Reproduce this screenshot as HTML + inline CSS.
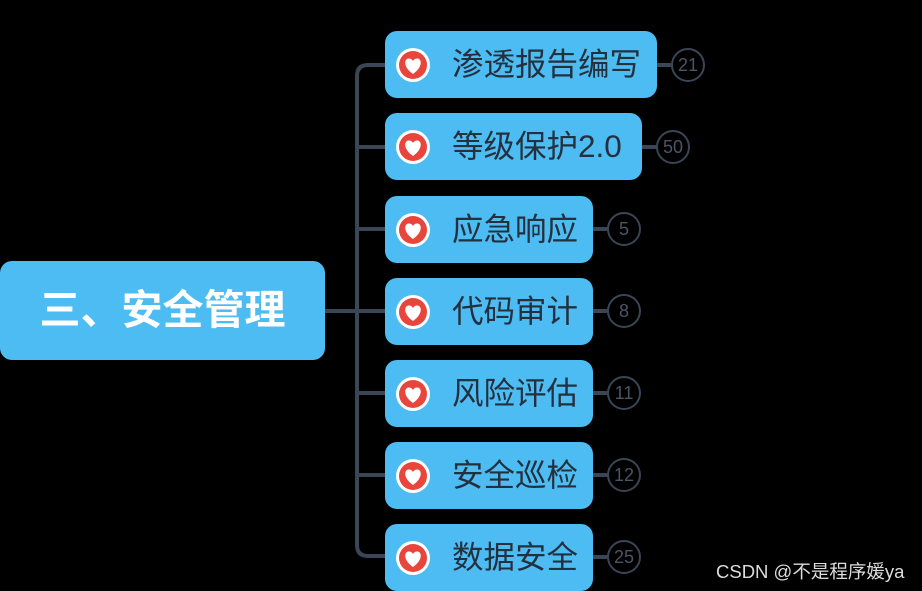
<!DOCTYPE html>
<html><head><meta charset="utf-8"><style>
body{margin:0;width:922px;height:591px;background:#000;overflow:hidden;position:relative;font-family:"Liberation Sans","Noto Sans CJK SC",sans-serif}
.b{position:absolute;background:#4dbcf3;border-radius:12px}
.n{position:absolute;left:385px;height:67px}
.n .t{position:absolute;left:67px;top:0;line-height:67px;font-size:31.5px;color:#24303e;white-space:nowrap}
.ic{position:absolute;left:10px;top:16px;width:36px;height:36px}
.c{position:absolute;width:30px;height:30px;border:2px solid #3a4556;border-radius:50%;color:#4a5566;font-size:18px;text-align:center;line-height:30px}
.l{position:absolute;background:#3a4556}
</style></head><body>
<svg width="0" height="0" style="position:absolute"><defs><g id="h"><circle cx="18" cy="18" r="17" fill="#fff"/><circle cx="18" cy="18" r="14" fill="#e8453c"/><path d="M18 27 C8 20 9 12 13.5 11.5 C16 11.2 17.3 12.8 18 14 C18.7 12.8 20 11.2 22.5 11.5 C27 12 28 20 18 27Z" fill="#fff"/></g></defs></svg>
<svg style="position:absolute;left:0;top:0" width="922" height="591">
<path d="M385 65 H368 Q357 65 357 76 V545 Q357 556 368 556 H385" fill="none" stroke="#3a4556" stroke-width="4"/>
<path d="M325 311 H385 M357 147 H385 M357 229 H385 M357 393 H385 M357 475 H385" stroke="#3a4556" stroke-width="4"/>
</svg>
<div class="b" style="left:0;top:261px;width:325px;height:99px;"><div style="position:absolute;left:0;right:0;top:0;line-height:99px;text-align:center;color:#fff;font-weight:bold;font-size:41px">三、安全管理</div></div>

<div class="b n" style="top:31px;width:272px"><svg class="ic"><use href="#h"/></svg><div class="t">渗透报告编写</div></div>
<div class="l" style="left:657px;top:63px;width:16px;height:4px"></div><div class="c" style="left:671px;top:48px">21</div>

<div class="b n" style="top:113px;width:257px"><svg class="ic"><use href="#h"/></svg><div class="t">等级保护2.0</div></div>
<div class="l" style="left:642px;top:145px;width:16px;height:4px"></div><div class="c" style="left:656px;top:130px">50</div>

<div class="b n" style="top:196px;width:208px"><svg class="ic"><use href="#h"/></svg><div class="t">应急响应</div></div>
<div class="l" style="left:593px;top:227px;width:16px;height:4px"></div><div class="c" style="left:607px;top:212px">5</div>

<div class="b n" style="top:278px;width:208px"><svg class="ic"><use href="#h"/></svg><div class="t">代码审计</div></div>
<div class="l" style="left:593px;top:309px;width:16px;height:4px"></div><div class="c" style="left:607px;top:294px">8</div>

<div class="b n" style="top:360px;width:208px"><svg class="ic"><use href="#h"/></svg><div class="t">风险评估</div></div>
<div class="l" style="left:593px;top:391px;width:16px;height:4px"></div><div class="c" style="left:607px;top:376px">11</div>

<div class="b n" style="top:442px;width:208px"><svg class="ic"><use href="#h"/></svg><div class="t">安全巡检</div></div>
<div class="l" style="left:593px;top:473px;width:16px;height:4px"></div><div class="c" style="left:607px;top:458px">12</div>

<div class="b n" style="top:524px;width:208px"><svg class="ic"><use href="#h"/></svg><div class="t">数据安全</div></div>
<div class="l" style="left:593px;top:555px;width:16px;height:4px"></div><div class="c" style="left:607px;top:540px">25</div>

<div style="position:absolute;left:716px;top:558px;font-size:18.5px;color:#ddd;white-space:nowrap">CSDN @不是程序媛ya</div>
</body></html>
